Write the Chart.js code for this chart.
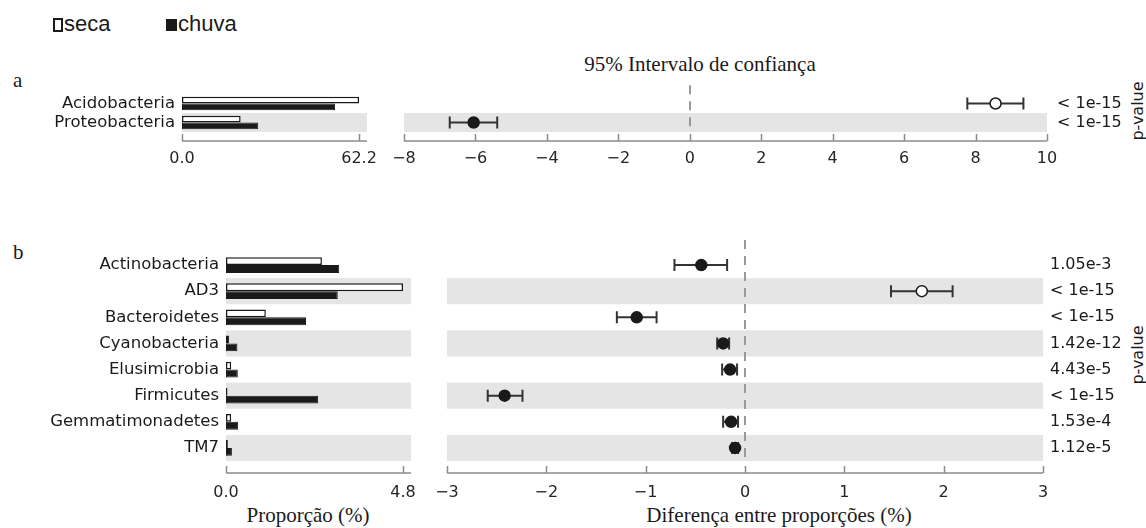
<!DOCTYPE html>
<html>
<head>
<meta charset="utf-8">
<script src="https://cdn.jsdelivr.net/npm/chart.js@4.4.1/dist/chart.umd.min.js"></script>
<style>
  body { margin: 0; width: 1146px; height: 528px; background: #fff; position: relative; overflow: hidden; }
  canvas { position: absolute; }
  .txt { position: absolute; white-space: nowrap; line-height: 1; color: #1a1a1a; }
  .serif { font-family: 'Liberation Serif', serif; font-size: 21px; }
  .sans { font-family: 'Liberation Sans', sans-serif; font-size: 22px; }
  .pv { font-family: 'DejaVu Sans', sans-serif; font-size: 16px; transform: translate(-50%, -50%) rotate(-90deg); }
  .box { position: absolute; box-sizing: border-box; }
</style>
</head>
<body>
<div class="box" style="left:53px;top:18px;width:10px;height:14px;border:2px solid #1a1a1a;"></div>
<div class="txt sans" style="left:64px;top:13px;">seca</div>
<div class="box" style="left:166px;top:19px;width:11px;height:12px;background:#1a1a1a;"></div>
<div class="txt sans" style="left:178px;top:13px;">chuva</div>

<div class="txt serif" style="left:13px;top:70px;">a</div>
<div class="txt serif" style="left:13px;top:242px;">b</div>
<div class="txt serif" style="left:700px;top:54px;transform:translateX(-50%);">95% Intervalo de confiança</div>
<div class="txt serif" style="left:308px;top:505px;transform:translateX(-50%);">Proporção (%)</div>
<div class="txt serif" style="left:779px;top:505px;transform:translateX(-50%);">Diferença entre proporções (%)</div>
<div class="txt pv" style="left:1138px;top:111px;">p-value</div>
<div class="txt pv" style="left:1138px;top:355px;">p-value</div>

<canvas id="aBars" width="395" height="100" style="left:0;top:80px;"></canvas>
<canvas id="aDiff" width="766" height="100" style="left:380px;top:80px;"></canvas>
<canvas id="bBars" width="430" height="280" style="left:0;top:230px;"></canvas>
<canvas id="bDiff" width="726" height="280" style="left:420px;top:230px;"></canvas>

<script>
// panel a
const categoriesA = ['Acidobacteria', 'Proteobacteria'];
const secaA = [62.2, 20.6];
const chuvaA = [53.8, 26.8];
const diffA = [8.56, -6.05];
const ciLowA = [7.77, -6.72];
const ciHighA = [9.34, -5.39];
const pvalA = ['< 1e-15', '< 1e-15'];

// panel b
const categoriesB = ['Actinobacteria', 'AD3', 'Bacteroidetes', 'Cyanobacteria', 'Elusimicrobia', 'Firmicutes', 'Gemmatimonadetes', 'TM7'];
const secaB = [2.60, 4.80, 1.08, 0.08, 0.14, 0.04, 0.14, 0.05];
const chuvaB = [3.07, 3.03, 2.17, 0.31, 0.32, 2.50, 0.33, 0.16];
const diffB = [-0.44, 1.78, -1.09, -0.22, -0.15, -2.42, -0.14, -0.10];
const ciLowB = [-0.71, 1.47, -1.29, -0.28, -0.23, -2.59, -0.22, -0.13];
const ciHighB = [-0.18, 2.09, -0.89, -0.16, -0.08, -2.24, -0.07, -0.07];
const pvalB = ['1.05e-3', '< 1e-15', '< 1e-15', '1.42e-12', '4.43e-5', '< 1e-15', '1.53e-4', '1.12e-5'];

Chart.defaults.font.family = "'DejaVu Sans', sans-serif";
Chart.defaults.color = '#262626';

const INK = '#1a1a1a';
const BAND = '#e5e5e5';

function minusFmt(v) {
  return v < 0 ? '\u2212' + Math.abs(v) : String(v);
}

// fixed size boxes, no extra room asked for the tick labels
function fixSize(w, h) {
  return s => {
    if (w !== null) s.width = w;
    if (h !== null) s.height = h;
    s.paddingLeft = s.paddingRight = s.paddingTop = s.paddingBottom = 0;
  };
}

// grey band behind every second row, plus the dashed zero line
const rowBands = {
  id: 'rowBands',
  beforeDatasetsDraw(chart, args, opts) {
    const {ctx, chartArea, scales} = chart;
    const y = scales.y;
    const n = y.getLabels().length;
    const h = y.getPixelForValue(1) - y.getPixelForValue(0);
    ctx.save();
    ctx.fillStyle = BAND;
    for (let i = 1; i < n; i += 2) {
      const c = y.getPixelForValue(i);
      ctx.fillRect(chartArea.left, c - h / 2, chartArea.right - chartArea.left, h);
    }
    if (opts.zeroLine) {
      const x0 = Math.round(scales.x.getPixelForValue(0));
      ctx.strokeStyle = '#999';
      ctx.lineWidth = 2;
      ctx.setLineDash([9, 7]);
      ctx.beginPath();
      ctx.moveTo(x0, chartArea.top - h * 0.46);
      ctx.lineTo(x0, chartArea.bottom);
      ctx.stroke();
    }
    ctx.restore();
  }
};

const errorBars = {
  id: 'errorBars',
  beforeDatasetsDraw(chart, args, opts) {
    const {ctx, scales} = chart;
    ctx.save();
    ctx.strokeStyle = '#333';
    ctx.lineWidth = 2;
    opts.low.forEach((lo, i) => {
      const py = scales.y.getPixelForValue(i);
      const x0 = scales.x.getPixelForValue(lo);
      const x1 = scales.x.getPixelForValue(opts.high[i]);
      ctx.beginPath();
      ctx.moveTo(x0, py); ctx.lineTo(x1, py);
      ctx.moveTo(x0, py - 6); ctx.lineTo(x0, py + 6);
      ctx.moveTo(x1, py - 6); ctx.lineTo(x1, py + 6);
      ctx.stroke();
    });
    ctx.restore();
  }
};

// matplotlib style axis, pushed below the plot with ticks pointing up
const offsetAxis = {
  id: 'offsetAxis',
  afterDraw(chart, args, opts) {
    const {ctx, chartArea, scales} = chart;
    const x = scales.x;
    const ay = chartArea.bottom + opts.gap;
    ctx.save();
    ctx.strokeStyle = '#8c8c8c';
    ctx.lineWidth = 1.5;
    ctx.beginPath();
    ctx.moveTo(chartArea.left, ay);
    ctx.lineTo(chartArea.right, ay);
    x.ticks.forEach(t => {
      const px = Math.round(x.getPixelForValue(t.value)) + 0.5;
      ctx.moveTo(px, ay);
      ctx.lineTo(px, ay - 7);
    });
    ctx.stroke();
    ctx.restore();
  }
};

const noGrid = { display: false, drawTicks: false };

function barChart(id, cats, seca, chuva, o) {
  const maxVal = Math.max(...seca, ...chuva);
  return new Chart(document.getElementById(id), {
    type: 'bar',
    data: {
      labels: cats,
      datasets: [
        { label: 'seca', data: seca, backgroundColor: '#fff', borderColor: INK, borderWidth: 1.5,
          borderSkipped: false, categoryPercentage: o.cat, barPercentage: 1 },
        { label: 'chuva', data: chuva, backgroundColor: INK, borderColor: INK, borderWidth: 1,
          borderSkipped: false, categoryPercentage: o.cat, barPercentage: 1 }
      ]
    },
    options: {
      indexAxis: 'y',
      responsive: false,
      animation: false,
      devicePixelRatio: 1,
      events: [],
      layout: { padding: { top: o.top, right: o.right, left: 0, bottom: 0 } },
      plugins: { legend: { display: false }, tooltip: { enabled: false }, offsetAxis: { gap: o.gap } },
      scales: {
        x: {
          min: 0, max: maxVal * 1.045,
          grid: noGrid, border: { display: false },
          afterBuildTicks: s => { s.ticks = [{ value: 0 }, { value: maxVal }]; },
          afterFit: fixSize(null, o.xh),
          ticks: { font: { size: 16 }, padding: o.tpad, maxRotation: 0, autoSkip: false,
                   callback: v => v.toFixed(1) }
        },
        y: {
          grid: noGrid, border: { display: false },
          afterFit: fixSize(o.yw, null),
          ticks: { font: { size: 16.5 }, color: INK, padding: 7, autoSkip: false }
        }
      }
    },
    plugins: [rowBands, offsetAxis]
  });
}

function diffChart(id, cats, diff, lo, hi, pvals, o) {
  return new Chart(document.getElementById(id), {
    type: 'scatter',
    data: {
      datasets: [{
        data: cats.map((c, i) => ({ x: diff[i], y: c })),
        pointRadius: 5.5,
        pointBorderWidth: 1.5,
        pointBorderColor: INK,
        pointBackgroundColor: diff.map(d => d > 0 ? '#fff' : INK)
      }]
    },
    options: {
      responsive: false,
      animation: false,
      devicePixelRatio: 1,
      events: [],
      layout: { padding: { top: o.top, left: o.left, right: 0, bottom: 0 } },
      plugins: {
        legend: { display: false }, tooltip: { enabled: false },
        rowBands: { zeroLine: true },
        errorBars: { low: lo, high: hi },
        offsetAxis: { gap: o.gap }
      },
      scales: {
        x: {
          type: 'linear', min: o.min, max: o.max,
          grid: noGrid, border: { display: false },
          afterFit: fixSize(null, o.xh),
          ticks: { stepSize: o.step, font: { size: 16 }, padding: o.tpad, maxRotation: 0, autoSkip: false,
                   callback: v => minusFmt(v) }
        },
        y: {
          type: 'category', labels: cats, offset: true, position: 'right',
          grid: noGrid, border: { display: false },
          afterFit: fixSize(o.yw, null),
          ticks: { font: { size: 16 }, color: INK, padding: o.ppad, autoSkip: false,
                   callback: (v, i) => pvals[i] }
        }
      }
    },
    plugins: [rowBands, errorBars, offsetAxis]
  });
}

barChart('aBars', categoriesA, secaA, chuvaA, { cat: 0.7, top: 14, right: 28, yw: 182, xh: 48, gap: 9, tpad: 17 });
diffChart('aDiff', categoriesA, diffA, ciLowA, ciHighA, pvalA,
  { min: -8, max: 10, step: 2, top: 14, left: 24, yw: 99, xh: 48, gap: 9, tpad: 17, ppad: 10 });
barChart('bBars', categoriesB, secaB, chuvaB, { cat: 0.6, top: 22, right: 19, yw: 226, xh: 49, gap: 12, tpad: 22 });
diffChart('bDiff', categoriesB, diffB, ciLowB, ciHighB, pvalB,
  { min: -3, max: 3, step: 1, top: 22, left: 27, yw: 103, xh: 49, gap: 12, tpad: 22, ppad: 7 });
</script>
</body>
</html>
